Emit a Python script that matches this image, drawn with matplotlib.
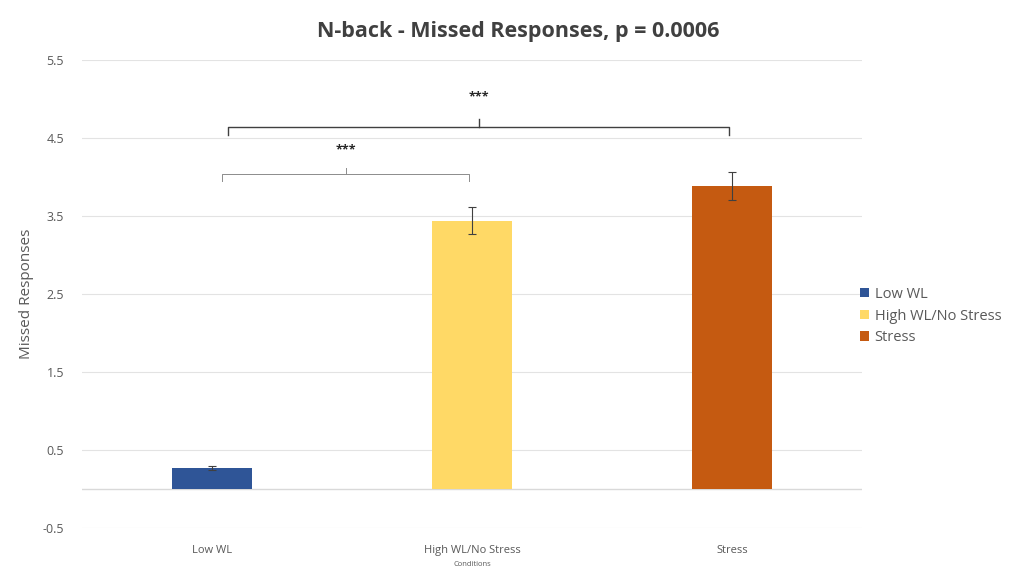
import matplotlib
matplotlib.use("Agg")
import matplotlib.pyplot as plt
from matplotlib.patches import Patch

categories = ["Low WL", "High WL/No Stress", "Stress"]
values = [0.27, 3.44, 3.88]
errors = [0.02, 0.17, 0.18]
colors = ["#2F5597", "#FFD966", "#C55A11"]
yticks = [-0.5, 0.5, 1.5, 2.5, 3.5, 4.5, 5.5]

plt.rcParams['font.family'] = ['Open Sans', 'DejaVu Sans']

fig = plt.figure(figsize=(10.27, 5.71), dpi=100)
ax = fig.add_axes([82/1027, 1-528/571, (862-82)/1027, (528-60)/571])

x = list(range(len(categories)))
ax.bar(x, values, width=0.31, color=colors, zorder=3)
ax.errorbar(x, values, yerr=errors, fmt='none', ecolor='#404040', elinewidth=0.8,
            capsize=3, capthick=0.8, zorder=4)

ax.set_xlim(-0.5, 2.5)
ax.set_ylim(-0.5, 5.5)
ax.set_yticks(yticks)
ax.set_yticklabels([f"{t:.1f}" for t in yticks])
ax.set_xticks(x)
ax.set_xticklabels(categories)
ax.grid(axis='y', color='#e3e3e3', linewidth=0.8, zorder=0)
ax.axhline(0, color='#d9d9d9', linewidth=1.0, zorder=2)
for s in ax.spines.values():
    s.set_visible(False)
ax.tick_params(axis='both', length=0, colors='#595959', labelsize=8)
ax.tick_params(axis='y', labelsize=9, pad=13)
ax.tick_params(axis='x', pad=12)

ax.set_ylabel("Missed Responses", fontsize=11, color='#595959', labelpad=6)
ax.set_xlabel("Conditions", fontsize=5.5, color='#595959', labelpad=4)

fig.text(518/1027, 1-32/571, "N-back - Missed Responses, p = 0.0006", ha='center', va='center',
         fontsize=15.5, fontweight='bold', color='#404040')

# significance brackets
def bracket(x0, x1, y, drop, tick, label_y, lw, col):
    ax.plot([x0, x0, x1, x1], [y - drop, y, y, y - drop], color=col, lw=lw, zorder=5)
    xm = (x0 + x1) / 2
    ax.plot([xm, xm], [y, y + tick], color=col, lw=lw, zorder=5)
    ax.text(xm, label_y, "***", ha='center', va='center', fontsize=9, color='#262626',
            fontweight='bold')

bracket(0.04, 0.99, 4.04, 0.09, 0.08, 4.35, 0.7, '#8c8c8c')
bracket(0.06, 1.99, 4.64, 0.1, 0.1, 5.03, 1.0, '#404040')

handles = [Patch(facecolor=c, label=l) for c, l in zip(colors, categories)]
fig.legend(handles=handles, loc='center left', bbox_to_anchor=(847/1027, 1-316/571),
           frameon=False, fontsize=10.5, handlelength=0.6, handleheight=0.6,
           handletextpad=0.4, labelspacing=0.45, labelcolor='#595959')

fig.savefig("out.png", dpi=100)
